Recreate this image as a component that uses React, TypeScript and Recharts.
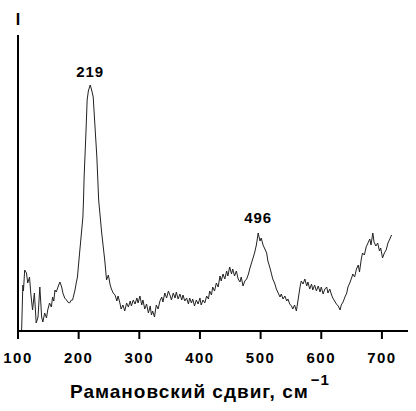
import { LineChart, Line, XAxis, YAxis, ReferenceDot } from 'recharts';

// Raman shift, cm^-1
const shift = [
  106, 107, 108, 109, 111, 114, 116, 119, 121, 124,
  127, 130, 133, 136, 139, 141, 144, 147, 149, 152,
  155, 157, 159, 161, 163, 166, 169, 172, 174, 177,
  180, 182, 185, 188, 190, 194, 196, 198, 202, 207,
  208, 209, 212, 214, 216, 219, 221, 224, 227, 230,
  233, 238, 243, 246, 249, 252, 254, 257, 260, 263,
  265, 268, 270, 273, 276, 279, 282, 285, 287, 290,
  293, 296, 298, 301, 304, 306, 309, 312, 315, 318,
  320, 322, 325, 328, 331, 334, 337, 339, 342, 345,
  348, 351, 353, 356, 359, 361, 364, 367, 370, 372,
  375, 378, 381, 383, 386, 388, 391, 394, 397, 400,
  402, 405, 408, 411, 414, 416, 419, 421, 424, 427,
  430, 433, 435, 438, 441, 444, 446, 449, 452, 454,
  457, 460, 463, 466, 468, 471, 474, 477, 480, 482,
  485, 487, 490, 493, 496, 499, 501, 504, 507, 510,
  512, 515, 518, 520, 523, 526, 529, 532, 534, 537,
  540, 543, 545, 548, 551, 553, 556, 559, 562, 565,
  567, 570, 573, 576, 578, 581, 584, 586, 589, 592,
  595, 598, 600, 603, 606, 609, 611, 614, 617, 619,
  622, 625, 628, 631, 633, 636, 639, 642, 644, 647,
  650, 652, 655, 658, 661, 663, 666, 668, 671, 674,
  677, 680, 682, 685, 687, 690, 693, 696, 698, 701,
  704, 707, 710, 713, 716,
];

// intensity, arbitrary units
const intensity = [
  1, 24, 46, 40, 61, 58, 48, 54, 38, 21,
  38, 8, 14, 44, 14, 9, 18, 13, 21, 28,
  24, 34, 30, 41, 39, 44, 49, 44, 38, 33,
  31, 29, 28, 31, 31, 41, 48, 54, 81, 114,
  131, 154, 198, 231, 240, 246, 242, 234, 204, 174,
  131, 98, 71, 51, 56, 46, 42, 38, 36, 30,
  35, 28, 22, 26, 20, 28, 24, 30, 25, 31,
  27, 33, 28, 35, 26, 31, 22, 27, 18, 25,
  16, 20, 14, 26, 22, 30, 34, 29, 38, 33,
  40, 35, 31, 38, 33, 39, 32, 37, 31, 36,
  30, 33, 27, 33, 28, 32, 25, 31, 27, 33,
  26, 31, 28, 35, 32, 40, 36, 44, 40, 48,
  44, 55, 50, 57, 52, 60, 55, 64, 57, 62,
  55, 60, 52, 49, 54, 45, 50, 52, 57, 62,
  68, 72, 78, 86, 98, 90, 93, 86, 82, 78,
  70, 64, 57, 52, 48, 42, 38, 34, 37, 32,
  35, 30, 32, 27, 25, 22, 26, 20, 32, 44,
  50, 47, 52, 45, 49, 42, 47, 41, 46, 40,
  45, 39, 44, 37, 42, 44, 38, 42, 36, 33,
  30, 27, 25, 21, 26, 29, 34, 38, 44, 48,
  53, 57, 54, 62, 66, 59, 72, 78, 76, 84,
  88, 92, 86, 98, 89, 85, 88, 80, 83, 73,
  78, 81, 88, 92, 96,
];

const xTicks = [100, 200, 300, 400, 500, 600, 700];
const peaks = [219, 496];

const data = shift.map((s, i) => ({ shift: s, intensity: intensity[i] }));

const font = '"Liberation Sans", Arial, sans-serif';

const AxisTitle = () => (
  <text x={70} y={398} fontFamily={font} fontWeight="bold" fontSize={19} letterSpacing={1} fill="#000">
    Рамановский сдвиг, см
    <tspan dx={2} dy={-13} fontSize={15}>−1</tspan>
  </text>
);

export default function App() {
  return (
    <div style={{ position: 'absolute', left: 0, top: 0, background: '#fff' }}>
      <LineChart width={416} height={411} data={data} margin={{ top: 35, right: 8, left: 8, bottom: 30 }}>
        <XAxis
          dataKey="shift"
          type="number"
          domain={[100, 743]}
          ticks={xTicks}
          allowDataOverflow
          height={50}
          axisLine={{ stroke: '#000', strokeWidth: 2 }}
          tickLine={{ stroke: '#000', strokeWidth: 2 }}
          tickSize={8}
          tickMargin={13}
          tick={{ fill: '#000', fontSize: 15, fontWeight: 'bold', fontFamily: font, letterSpacing: 1.5 }}
          label={{ content: () => <AxisTitle /> }}
        />
        <YAxis
          type="number"
          domain={[0, 296]}
          allowDataOverflow
          width={10}
          tick={false}
          tickLine={false}
          axisLine={{ stroke: '#000', strokeWidth: 2 }}
          label={{ content: () => (
            <text x={18} y={25} textAnchor="middle" fontFamily={font} fontWeight="bold" fontSize={16} fill="#000">I</text>
          ) }}
        />
        <Line
          type="linear"
          dataKey="intensity"
          stroke="#222"
          strokeWidth={1}
          dot={false}
          isAnimationActive={false}
        />
        {peaks.map((p) => (
          <ReferenceDot
            key={p}
            x={p}
            y={intensity[shift.indexOf(p)]}
            r={0}
            stroke="none"
            label={{ value: String(p), position: 'top', offset: p === 219 ? 8 : 10, fill: '#000', fontSize: 15, fontWeight: 'bold', fontFamily: font, letterSpacing: 1 }}
          />
        ))}
      </LineChart>
    </div>
  );
}
